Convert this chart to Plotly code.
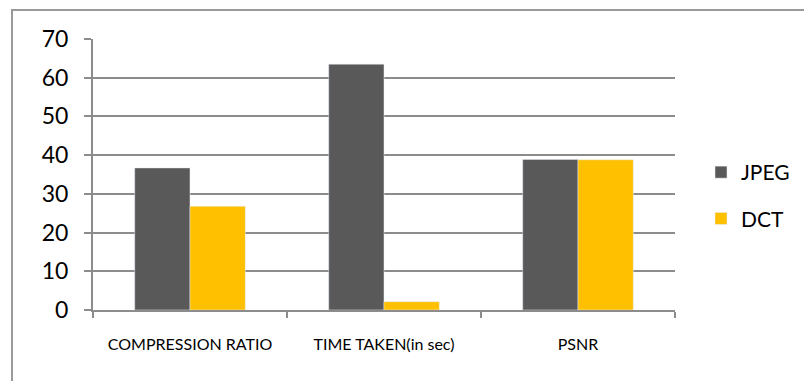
import plotly.graph_objects as go

categories = ["COMPRESSION RATIO", "TIME TAKEN(in sec)", "PSNR"]
jpeg = [36.7, 63.5, 38.9]
dct = [26.8, 2.15, 38.8]
y_ticks = [0, 10, 20, 30, 40, 50, 60, 70]

W, H = 804, 381
L, R, T, B = 93, 129, 39, 71
pw, ph = W - L - R, H - T - B

def px_x(p):
    return (p - L) / pw

def px_y(p):
    return (H - B - p) / ph

fig = go.Figure()
fig.add_trace(go.Bar(name="JPEG", x=categories, y=jpeg, marker_color="#595959",
                     legendgroup="a"))
fig.add_trace(go.Bar(name="DCT", x=categories, y=dct, marker_color="#FFC000",
                     legendgroup="b"))

fig.update_layout(
    width=W, height=H,
    margin=dict(l=L, r=R, t=T, b=B, pad=0, autoexpand=False),
    paper_bgcolor="white", plot_bgcolor="white",
    barmode="group", bargap=0.43, bargroupgap=0,
    font=dict(family="Lato", color="black"),
    legend=dict(x=px_x(701), xanchor="left", xref="paper", y=px_y(152), yanchor="top",
                font=dict(size=21, family="Lato"), traceorder="grouped",
                tracegroupgap=16, itemwidth=30, bgcolor="rgba(0,0,0,0)"),
    showlegend=True,
    xaxis=dict(showgrid=False, showline=True, linecolor="#8c8c8c", linewidth=2,
               ticks="outside", ticklen=6, tickcolor="#8c8c8c", tickwidth=2,
               tickson="boundaries", tickfont=dict(size=16, family="Lato"),
               ticklabelstandoff=19, automargin=False),
    yaxis=dict(range=[0, 70], tickvals=y_ticks, showgrid=True, gridcolor="#8c8c8c",
               gridwidth=2, showline=True, linecolor="#8c8c8c", linewidth=2,
               ticks="outside", ticklen=7, tickcolor="#8c8c8c", tickwidth=2,
               tickfont=dict(size=23, family="Lato"), ticklabelstandoff=11,
               zeroline=False, automargin=False),
    shapes=[dict(type="rect", xref="paper", yref="paper",
                 x0=px_x(12), x1=px_x(830), y0=px_y(10), y1=px_y(420),
                 line=dict(color="#9a9a9a", width=2), layer="below")],
)

fig.write_html("out.html")
